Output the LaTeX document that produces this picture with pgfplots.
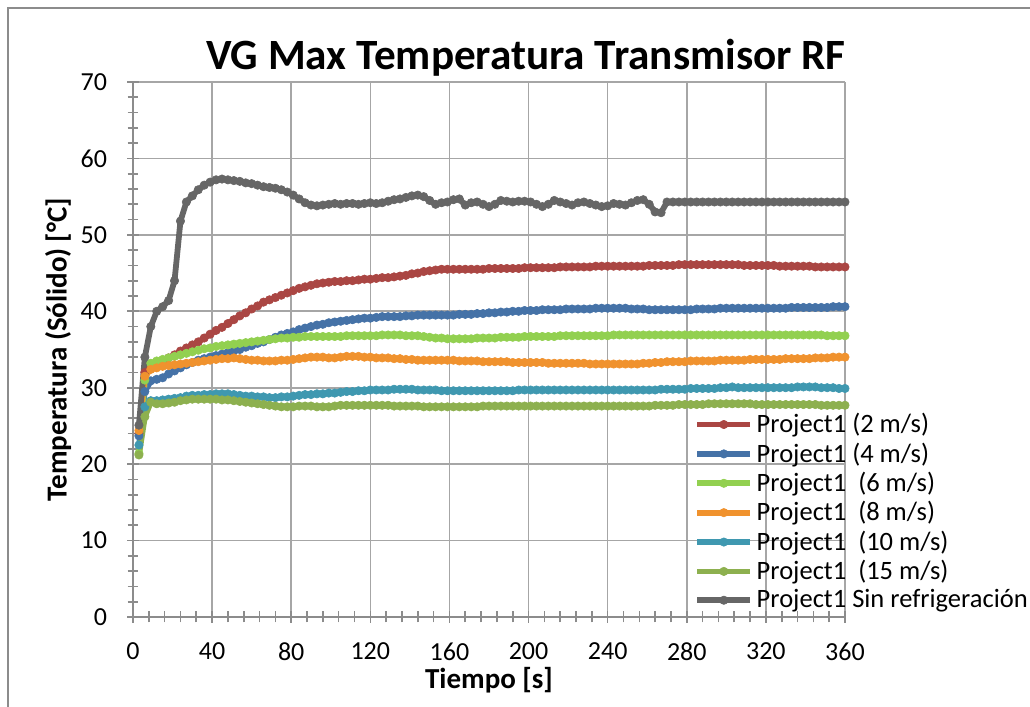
\documentclass[border=0pt]{standalone}
\usepackage{fontspec}
\setmainfont{Carlito}
\usepackage{pgfplots}
\pgfplotsset{compat=1.18}
\usepackage{pgfplotstable}

\definecolor{sred}{HTML}{AA4643}
\definecolor{sblue}{HTML}{4572A7}
\definecolor{slgreen}{HTML}{92D050}
\definecolor{sorange}{HTML}{F0922E}
\definecolor{steal}{HTML}{3F98B0}
\definecolor{solive}{HTML}{8DB04F}
\definecolor{sgray}{HTML}{666666}
\definecolor{gridgray}{HTML}{A6A6A6}
\definecolor{axgray}{HTML}{8C8C8C}

% t | 2 m/s | 4 m/s | 6 m/s | 8 m/s | 10 m/s | 15 m/s | sin refrigeracion
\pgfplotstableread{
t a b c d e f g
3 24.0 23.7 21.4 24.4 22.5 21.2 25.1
6 32.0 29.5 31.0 31.5 27.5 26.2 34.0
9 32.6 30.9 33.2 32.4 28.3 28.1 38.0
12 33.0 31.1 33.5 32.6 28.3 27.9 40.0
15 33.4 31.3 33.7 32.8 28.4 27.9 40.6
18 33.9 31.8 33.9 32.9 28.5 28.0 41.4
21 34.3 32.2 34.1 33.0 28.6 28.1 44.0
24 34.8 32.6 34.3 33.1 28.7 28.3 51.8
27 35.2 33.0 34.5 33.2 28.9 28.4 54.3
30 35.6 33.3 34.7 33.3 29.0 28.5 55.1
33 36.0 33.6 34.9 33.4 29.0 28.5 55.9
36 36.5 33.8 35.1 33.5 29.1 28.5 56.5
39 37.0 34.0 35.2 33.6 29.1 28.5 56.9
42 37.5 34.2 35.4 33.7 29.2 28.5 57.2
45 37.9 34.4 35.5 33.8 29.2 28.4 57.3
48 38.4 34.6 35.6 33.8 29.2 28.4 57.2
51 38.9 34.8 35.7 33.9 29.1 28.3 57.1
54 39.4 35.0 35.8 33.8 29.0 28.2 57.0
57 39.8 35.3 35.9 33.7 28.9 28.1 56.8
60 40.3 35.5 36.0 33.6 28.9 28.0 56.7
63 40.7 35.8 36.1 33.6 28.8 27.9 56.5
66 41.2 36.0 36.2 33.5 28.8 27.8 56.3
69 41.5 36.3 36.3 33.5 28.7 27.7 56.2
72 41.8 36.6 36.4 33.5 28.7 27.6 56.1
75 42.1 36.9 36.5 33.6 28.8 27.5 55.9
78 42.4 37.1 36.5 33.6 28.8 27.5 55.6
81 42.7 37.3 36.6 33.7 28.9 27.5 55.2
84 43.0 37.6 36.6 33.8 29.0 27.6 54.7
87 43.2 37.8 36.7 33.9 29.1 27.6 54.2
90 43.4 38.0 36.7 34.0 29.1 27.6 53.9
93 43.6 38.2 36.7 34.0 29.2 27.5 53.8
96 43.7 38.3 36.7 34.0 29.2 27.5 53.9
99 43.8 38.5 36.7 33.9 29.3 27.5 54.0
102 43.9 38.6 36.7 33.9 29.3 27.6 54.1
105 43.9 38.7 36.7 34.0 29.4 27.7 54.0
108 44.0 38.8 36.8 34.1 29.5 27.7 54.1
111 44.0 38.9 36.8 34.1 29.5 27.7 54.1
114 44.1 39.0 36.8 34.1 29.6 27.7 54.0
117 44.2 39.1 36.8 34.0 29.6 27.7 54.1
120 44.2 39.1 36.8 34.0 29.7 27.7 54.2
123 44.3 39.2 36.8 33.9 29.7 27.7 54.1
126 44.4 39.3 36.9 33.9 29.7 27.7 54.2
129 44.4 39.3 36.9 33.9 29.7 27.7 54.4
132 44.5 39.3 36.9 33.8 29.8 27.6 54.6
135 44.6 39.3 36.9 33.8 29.8 27.6 54.7
138 44.7 39.4 36.8 33.7 29.8 27.6 54.9
141 44.9 39.4 36.8 33.7 29.8 27.6 55.1
144 45.0 39.5 36.8 33.6 29.7 27.6 55.2
147 45.2 39.5 36.7 33.6 29.7 27.5 55.0
150 45.3 39.5 36.6 33.6 29.7 27.5 54.5
153 45.4 39.5 36.5 33.6 29.7 27.5 54.0
156 45.5 39.5 36.5 33.6 29.6 27.5 54.2
159 45.5 39.5 36.4 33.6 29.6 27.5 54.3
162 45.5 39.5 36.4 33.6 29.6 27.5 54.6
165 45.5 39.6 36.4 33.5 29.6 27.5 54.7
168 45.5 39.6 36.4 33.5 29.6 27.5 53.9
171 45.5 39.6 36.4 33.5 29.6 27.5 54.2
174 45.5 39.7 36.5 33.5 29.6 27.5 54.3
177 45.5 39.7 36.5 33.4 29.6 27.6 54.0
180 45.6 39.8 36.5 33.4 29.6 27.6 53.7
183 45.6 39.8 36.5 33.4 29.6 27.6 54.0
186 45.6 39.9 36.6 33.4 29.6 27.6 54.5
189 45.6 39.9 36.6 33.4 29.6 27.6 54.4
192 45.6 40.0 36.6 33.3 29.6 27.6 54.3
195 45.6 40.0 36.6 33.3 29.7 27.6 54.4
198 45.7 40.1 36.7 33.3 29.7 27.6 54.4
201 45.7 40.1 36.7 33.3 29.7 27.6 54.3
204 45.7 40.1 36.7 33.3 29.7 27.6 54.0
207 45.7 40.2 36.7 33.3 29.7 27.6 53.7
210 45.7 40.2 36.7 33.2 29.7 27.6 54.0
213 45.7 40.2 36.7 33.2 29.7 27.6 54.5
216 45.8 40.2 36.8 33.2 29.7 27.6 54.3
219 45.8 40.3 36.8 33.2 29.7 27.6 54.1
222 45.8 40.3 36.8 33.2 29.7 27.6 53.9
225 45.8 40.3 36.8 33.2 29.7 27.6 54.2
228 45.8 40.3 36.8 33.2 29.7 27.6 54.3
231 45.8 40.3 36.8 33.1 29.7 27.6 54.1
234 45.9 40.4 36.8 33.1 29.7 27.6 53.9
237 45.9 40.4 36.8 33.1 29.7 27.6 53.7
240 45.9 40.4 36.8 33.1 29.7 27.6 53.8
243 45.9 40.4 36.9 33.1 29.7 27.6 54.1
246 45.9 40.4 36.9 33.1 29.7 27.6 54.0
249 45.9 40.4 36.9 33.1 29.7 27.6 53.9
252 45.9 40.3 36.9 33.1 29.7 27.6 54.2
255 45.9 40.3 36.9 33.1 29.7 27.6 54.5
258 45.9 40.3 36.9 33.2 29.7 27.6 54.6
261 46.0 40.2 36.9 33.2 29.7 27.6 54.0
264 46.0 40.2 36.9 33.3 29.7 27.7 53.0
267 46.0 40.2 36.9 33.3 29.8 27.7 52.9
270 46.0 40.2 36.9 33.4 29.8 27.7 54.3
273 46.0 40.2 36.9 33.4 29.8 27.7 54.3
276 46.1 40.2 36.9 33.4 29.8 27.8 54.3
279 46.1 40.2 36.9 33.4 29.8 27.8 54.3
282 46.1 40.2 36.9 33.5 29.9 27.8 54.3
285 46.1 40.3 36.9 33.5 29.9 27.8 54.3
288 46.1 40.3 36.9 33.5 29.9 27.8 54.3
291 46.1 40.3 36.9 33.5 29.9 27.9 54.3
294 46.1 40.3 36.9 33.5 29.9 27.9 54.3
297 46.1 40.4 36.9 33.6 30.0 27.9 54.3
300 46.1 40.4 36.9 33.6 30.0 27.9 54.3
303 46.1 40.4 36.9 33.6 30.1 27.9 54.3
306 46.1 40.4 36.9 33.6 30.0 27.9 54.3
309 46.0 40.4 36.9 33.6 30.0 27.9 54.3
312 46.0 40.4 36.9 33.7 30.0 27.9 54.3
315 46.0 40.4 36.9 33.7 30.0 27.8 54.3
318 46.0 40.4 36.9 33.7 30.0 27.8 54.3
321 46.0 40.4 36.9 33.7 30.0 27.8 54.3
324 46.0 40.4 36.9 33.7 30.0 27.8 54.3
327 45.9 40.4 36.9 33.7 30.0 27.8 54.3
330 45.9 40.4 36.9 33.8 30.0 27.8 54.3
333 45.9 40.5 36.9 33.8 30.0 27.8 54.3
336 45.9 40.5 36.9 33.8 30.1 27.8 54.3
339 45.9 40.5 36.9 33.8 30.1 27.8 54.3
342 45.9 40.5 36.9 33.8 30.1 27.8 54.3
345 45.8 40.5 36.9 33.9 30.1 27.8 54.3
348 45.8 40.5 36.9 33.9 30.0 27.7 54.3
351 45.8 40.5 36.8 33.9 30.0 27.7 54.3
354 45.8 40.6 36.8 34.0 30.0 27.7 54.3
357 45.8 40.6 36.8 34.0 29.9 27.7 54.3
360 45.8 40.6 36.8 34.0 29.9 27.7 54.3
}\datatab

\pgfplotsset{
  serie/.style={color=#1, line width=2.9pt, line join=round, mark=*,
    mark size=2.1pt, mark options={solid, line width=0.3pt}},
}

\begin{document}
\begin{tikzpicture}[x=1pt,y=1pt]
\useasboundingbox (0,0) rectangle (515,353.5);
\draw[axgray, line width=0.75pt] (4,0) -- (4,349.5) -- (515,349.5);
\node[font=\fontsize{21.6}{26}\selectfont\bfseries, anchor=base]
  at (263,318.5) {VG Max Temperatura Transmisor RF};
\begin{axis}[
  at={(66.5pt,45pt)}, anchor=south west,
  scale only axis, width=356pt, height=267.5pt,
  xmin=0, xmax=360, ymin=0, ymax=70,
  xtick={0,40,...,360}, ytick={0,10,...,70},
  minor x tick num=4, minor y tick num=4,
  axis x line*=bottom, axis y line*=left,
  axis line style={-, draw=axgray, line width=0.8pt},
  grid=major, major grid style={draw=gridgray, line width=0.8pt},
  tick align=center, major tick length=6pt, minor tick length=5.5pt,
  tick style={draw=axgray, line width=0.8pt},
  ticklabel style={font=\fontsize{13}{15}\selectfont},
  xticklabel shift=6.5pt, yticklabel shift=6.5pt,
  /pgf/number format/assume math mode=true,
  xlabel={Tiempo [s]}, ylabel={Temperatura (Sólido) [°C]},
  xlabel style={at={(axis description cs:0.5,-0.118)}, anchor=center,
    font=\fontsize{14.5}{17}\selectfont\bfseries},
  ylabel style={at={(axis description cs:-0.105,0.5)}, rotate=0, anchor=center,
    font=\fontsize{14.5}{17}\selectfont\bfseries},
  clip=false,
  legend style={at={(0.788,0.388)}, anchor=north west, draw=none, fill=none,
    inner sep=0pt, font=\fontsize{13.25}{15}\selectfont,
    nodes={inner sep=1.75pt}},
  legend cell align=left,
  legend image code/.code={\draw[#1, mark repeat=2, mark phase=2]
    plot coordinates {(0pt,0pt) (13.25pt,0pt) (26.5pt,0pt)};},
]
\addplot[serie=sred]    table[x=t,y=a] {\datatab};
\addlegendentry{Project1 (2 m/s)}
\addplot[serie=sblue]   table[x=t,y=b] {\datatab};
\addlegendentry{Project1 (4 m/s)}
\addplot[serie=slgreen] table[x=t,y=c] {\datatab};
\addlegendentry{Project1~~(6 m/s)}
\addplot[serie=sorange] table[x=t,y=d] {\datatab};
\addlegendentry{Project1~~(8 m/s)}
\addplot[serie=steal]   table[x=t,y=e] {\datatab};
\addlegendentry{Project1~~(10 m/s)}
\addplot[serie=solive]  table[x=t,y=f] {\datatab};
\addlegendentry{Project1~~(15 m/s)}
\addplot[serie=sgray]   table[x=t,y=g] {\datatab};
\addlegendentry{Project1 Sin refrigeración}
\end{axis}
\end{tikzpicture}
\end{document}
